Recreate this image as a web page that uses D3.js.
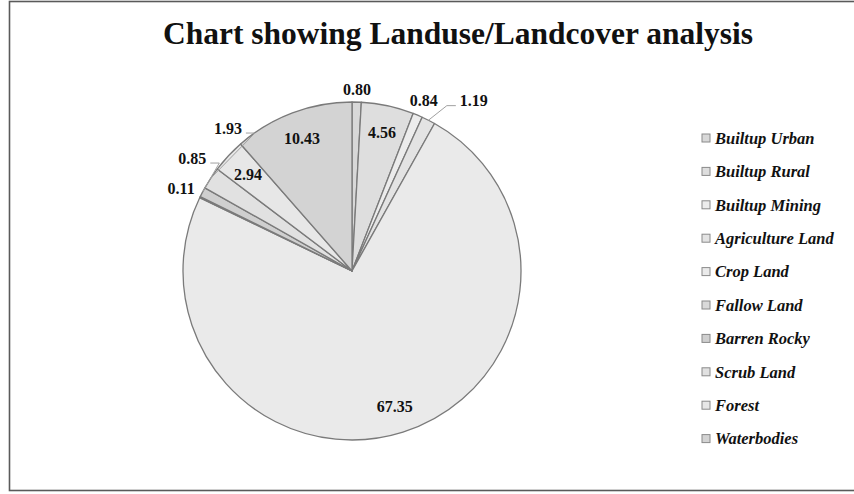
<!DOCTYPE html>
<html>
<head>
<meta charset="utf-8">
<script src="https://cdn.jsdelivr.net/npm/d3@7"></script>
<style>
  html, body { margin: 0; padding: 0; background: #ffffff; }
  svg { display: block; }
</style>
</head>
<body>
<svg id="chart" width="854" height="494"></svg>
<script>
// Land use / land cover shares (%)
const categories = ["Builtup Urban", "Builtup Rural", "Builtup Mining", "Agriculture Land",
  "Crop Land", "Fallow Land", "Barren Rocky", "Scrub Land", "Forest", "Waterbodies"];
const values = [0.80, 4.56, 0.84, 1.19, 67.35, 0.11, 0.85, 1.93, 2.94, 10.43];
const shades = ["#d8d8d8", "#dedede", "#ececec", "#e3e3e3", "#eaeaea",
  "#d9d9d9", "#cfcfcf", "#e1e1e1", "#e7e7e7", "#d3d3d3"];
const titleText = "Chart showing Landuse/Landcover analysis";

const svg = d3.select("#chart");
const serif = "'Liberation Serif', 'Times New Roman', serif";

// outer frame
svg.append("rect")
  .attr("x", 9.5).attr("y", 1.5)
  .attr("width", 870).attr("height", 489)
  .attr("fill", "#ffffff").attr("stroke", "#5a5a5a").attr("stroke-width", 1.6);

// title
svg.append("text")
  .attr("x", 458).attr("y", 44)
  .attr("text-anchor", "middle")
  .attr("font-family", serif)
  .attr("font-weight", "bold")
  .attr("font-size", 31.5)
  .attr("fill", "#111")
  .text(titleText);

const cx = 352, cy = 271, R = 169;
const rows = categories.map((c, i) => ({ name: c, value: values[i], color: shades[i] }));

const pie = d3.pie().sort(null).value(d => d.value);
const arcs = pie(rows);
const arc = d3.arc().innerRadius(0).outerRadius(R);

const g = svg.append("g").attr("transform", `translate(${cx},${cy})`);

g.selectAll("path.slice")
  .data(arcs)
  .join("path")
  .attr("class", "slice")
  .attr("d", arc)
  .attr("fill", d => d.data.color)
  .attr("stroke", "#7a7a7a")
  .attr("stroke-width", 1.3)
  .attr("stroke-linejoin", "round");

// value labels: larger slices inside, small ones outside
const fmt = d3.format(".2f");
const polar = (a, r) => [Math.sin(a) * r, -Math.cos(a) * r];
const halfW = 17;

const placed = arcs.map(d => {
  const mid = (d.startAngle + d.endAngle) / 2;
  const inside = d.data.value >= 2.5;
  const off = 12 + 10 * Math.abs(Math.sin(mid));
  const p = polar(mid, inside ? R * 0.84 : R + off);
  return { d, mid, inside, x: p[0], y: p[1], nx: p[0], ny: p[1] };
});

// left side: stack crowded labels upward, keeping them clear of the rim
const left = placed.filter(p => !p.inside && p.x < 0).sort((a, b) => b.y - a.y);
for (let i = 1; i < left.length; i++) {
  if (left[i - 1].y - left[i].y < 30) {
    left[i].y = left[i - 1].y - 30;
    left[i].x = -Math.sqrt(Math.max(0, R * R - left[i].y * left[i].y)) - 34;
  }
}
// right side: spread crowded labels horizontally along the top
const right = placed.filter(p => !p.inside && p.x >= 0).sort((a, b) => a.mid - b.mid);
for (let i = 1; i < right.length; i++) {
  if (right[i].x - right[i - 1].x < 50) {
    right[i].x = right[i - 1].x + 50;
    right[i].y = Math.min(right[i].y, right[i - 1].y);
  }
}

// leader lines for labels moved away from their slice
placed.filter(p => !p.inside).forEach(p => {
  if (Math.hypot(p.nx - p.x, p.ny - p.y) < 8) return;
  const edge = polar(p.mid, R);
  const side = p.x < 0 ? 1 : -1;
  const end = [p.x + side * (halfW + 1), p.y + 5];
  const knee = [end[0] + side * 9, end[1]];
  g.append("polyline")
    .attr("points", [end, knee, edge].map(q => q.join(",")).join(" "))
    .attr("fill", "none").attr("stroke", "#a0a0a0").attr("stroke-width", 1);
});

g.selectAll("text.val")
  .data(placed)
  .join("text")
  .attr("class", "val")
  .attr("x", p => p.x)
  .attr("y", p => p.y)
  .attr("dy", "0.35em")
  .attr("text-anchor", "middle")
  .attr("font-family", serif)
  .attr("font-weight", "bold")
  .attr("font-size", 16)
  .attr("fill", "#111")
  .text(p => fmt(p.d.data.value));

// legend
const legend = svg.append("g").attr("transform", "translate(702,138)");
const step = 33.4;
const item = legend.selectAll("g.item")
  .data(rows)
  .join("g")
  .attr("class", "item")
  .attr("transform", (d, i) => `translate(0,${i * step})`);
item.append("rect")
  .attr("x", 0).attr("y", -4).attr("width", 8).attr("height", 8)
  .attr("fill", d => d.color).attr("stroke", "#8a8a8a").attr("stroke-width", 1);
item.append("text")
  .attr("x", 13).attr("y", 0).attr("dy", "0.35em")
  .attr("font-family", serif)
  .attr("font-weight", "bold").attr("font-style", "italic")
  .attr("font-size", 16.5).attr("fill", "#111")
  .text(d => d.name);
</script>
</body>
</html>
